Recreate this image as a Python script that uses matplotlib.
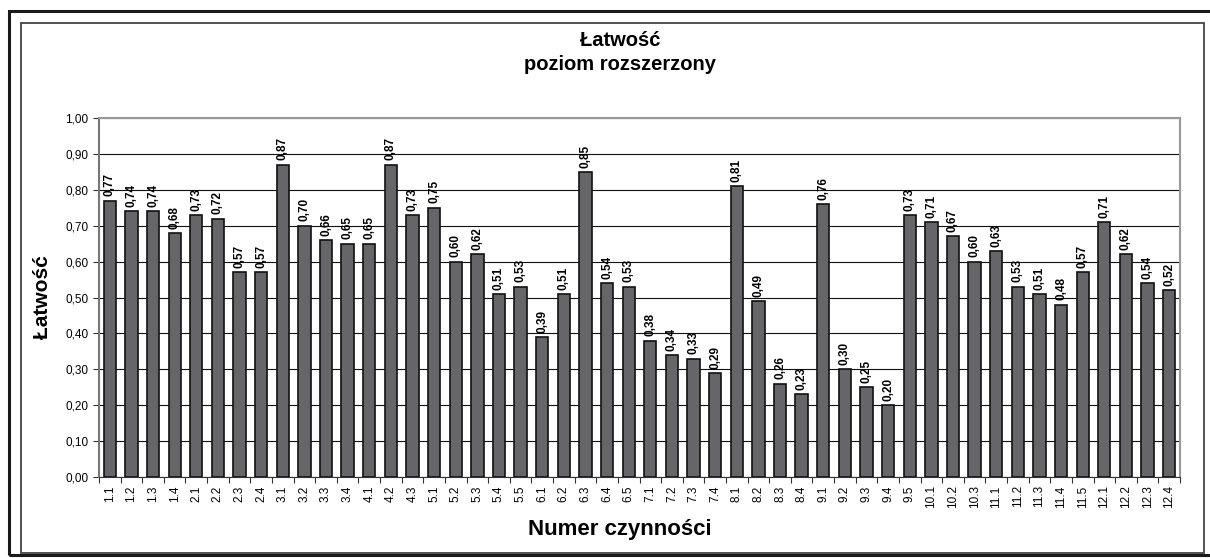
import matplotlib
matplotlib.use("Agg")
import matplotlib.pyplot as plt
from matplotlib.patches import Rectangle

plt.rcParams['font.family'] = ['Liberation Sans', 'DejaVu Sans']

# Dane
kategorie = ['1.1', '1.2', '1.3', '1.4', '2.1', '2.2', '2.3', '2.4', '3.1', '3.2',
             '3.3', '3.4', '4.1', '4.2', '4.3', '5.1', '5.2', '5.3', '5.4', '5.5',
             '6.1', '6.2', '6.3', '6.4', '6.5', '7.1', '7.2', '7.3', '7.4', '8.1',
             '8.2', '8.3', '8.4', '9.1', '9.2', '9.3', '9.4', '9.5', '10.1', '10.2',
             '10.3', '11.1', '11.2', '11.3', '11.4', '11.5', '12.1', '12.2', '12.3', '12.4']
latwosc = [0.77, 0.74, 0.74, 0.68, 0.73, 0.72, 0.57, 0.57, 0.87, 0.70,
           0.66, 0.65, 0.65, 0.87, 0.73, 0.75, 0.60, 0.62, 0.51, 0.53,
           0.39, 0.51, 0.85, 0.54, 0.53, 0.38, 0.34, 0.33, 0.29, 0.81,
           0.49, 0.26, 0.23, 0.76, 0.30, 0.25, 0.20, 0.73, 0.71, 0.67,
           0.60, 0.63, 0.53, 0.51, 0.48, 0.57, 0.71, 0.62, 0.54, 0.52]
y_ticks = [0.0, 0.1, 0.2, 0.3, 0.4, 0.5, 0.6, 0.7, 0.8, 0.9, 1.0]

fig = plt.figure(figsize=(12.1, 5.58), dpi=100)

# ramki wokol wykresu
fig.patches.append(Rectangle((9 / 1210, 3 / 558), 1.0, 544 / 558, transform=fig.transFigure,
                             fill=False, edgecolor='#1a1a1a', linewidth=2.2))
fig.patches.append(Rectangle((21 / 1210, 5 / 558), 1183 / 1210, 530 / 558, transform=fig.transFigure,
                             fill=False, edgecolor='#444444', linewidth=1.3))

ax = fig.add_axes([99 / 1210, 81 / 558, 1081 / 1210, 359 / 558])

x = range(len(kategorie))
bars = ax.bar(x, latwosc, width=0.57, color='#66666a', edgecolor='#111111', linewidth=1.2, zorder=3)

for i, v in enumerate(latwosc):
    ax.text(i, v + 0.012, f"{v:.2f}".replace('.', ','), rotation=90, ha='center', va='bottom',
            fontsize=8.5, fontweight='bold', zorder=4)

ax.set_xlim(-0.5, len(kategorie) - 0.5)
ax.set_ylim(0, 1.0)
ax.set_yticks(y_ticks)
ax.set_yticklabels([f"{t:.2f}".replace('.', ',') for t in y_ticks], fontsize=8.5)
ax.set_xticks([i - 0.5 for i in range(len(kategorie) + 1)], minor=False)
ax.set_xticklabels([])
ax.set_xticks(list(x), minor=True)
ax.set_xticklabels(kategorie, minor=True, rotation=90, fontsize=8.5)
ax.tick_params(axis='x', which='minor', length=0, pad=6)
ax.tick_params(axis='x', which='major', length=4, direction='out', color='#333333')
ax.tick_params(axis='y', length=4, direction='out', color='#333333')

ax.grid(axis='y', color='#111111', linewidth=0.8, zorder=0)
for s in ['top', 'right']:
    ax.spines[s].set_color('#999999')
    ax.spines[s].set_linewidth(1.5)
ax.spines['left'].set_color('#777777')
ax.spines['left'].set_linewidth(1.5)
ax.spines['bottom'].set_color('#333333')

ax.set_ylabel('Łatwość', fontsize=15, fontweight='bold', labelpad=10)
ax.set_xlabel('Numer czynności', fontsize=16, fontweight='bold', labelpad=10)
ax.xaxis.set_label_coords((620 - 99) / 1081, -53 / 359 - 0.0)
ax.xaxis.label.set_va('center')
ax.xaxis.set_label_coords((620 - 99) / 1081, -(530 - 477) / 359)
fig.text(620 / 1210, 1 - 40 / 558, 'Łatwość', ha='center', va='center', fontsize=14.5, fontweight='bold')
fig.text(620 / 1210, 1 - 64 / 558, 'poziom rozszerzony', ha='center', va='center', fontsize=14.5, fontweight='bold')

fig.savefig('out.png', dpi=100)
